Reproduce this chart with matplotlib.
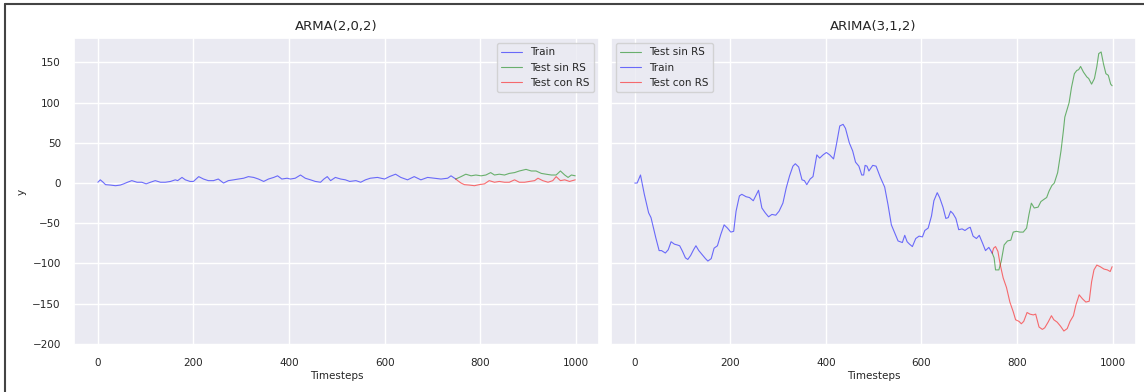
import matplotlib
matplotlib.use("Agg")
import matplotlib.pyplot as plt
import seaborn as sns
from matplotlib.lines import Line2D

# (timestep, value) pairs
arma_train = [(0, 1), (5, 4), (11, 1), (16, -2), (26, -2.5), (37, -3.3), (47, -2.5), (54, -1), (62, 1),
              (71, 3), (82, 1), (92, 1), (101, -1), (110, 1), (120, 3), (131, 1), (141, 1), (152, 2),
              (162, 4), (167, 3), (176, 7), (183, 4), (193, 2), (200, 2), (211, 8), (221, 5), (231, 3),
              (242, 3), (252, 5), (263, 0), (273, 3), (284, 4), (294, 5), (305, 6), (315, 8), (326, 7),
              (336, 5), (347, 2), (357, 5), (368, 7), (376, 9), (385, 5), (396, 6), (403, 5), (413, 6),
              (424, 10), (434, 6), (445, 4), (455, 2), (466, 1), (473, 5), (480, 8), (487, 3), (497, 7),
              (508, 5), (518, 4), (527, 2), (540, 3), (550, 1), (560, 4), (570, 6), (585, 7), (600, 5),
              (610, 8), (623, 11), (634, 7), (648, 4), (662, 8), (676, 4), (690, 7), (704, 6), (718, 5),
              (732, 6), (739, 9), (749, 5)]
arma_sin_rs = [(749, 5), (760, 8), (770, 11), (781, 9), (791, 10), (802, 9), (812, 10), (822, 13), (830, 10),
               (840, 11), (851, 10), (861, 12), (872, 13), (882, 15), (896, 17), (907, 15), (917, 15),
               (928, 12), (938, 11), (949, 10), (959, 10), (968, 15), (977, 10), (984, 7), (991, 10), (999, 9)]
arma_con_rs = [(749, 5), (753, 3), (760, 0), (767, -2), (777, -2.5), (788, -3.3), (798, -2), (809, -1),
               (819, 3), (830, 1), (840, 2), (851, 1), (861, 1), (872, 4), (882, 1), (893, 1), (903, 2),
               (914, 3), (921, 6), (931, 3), (942, 1), (952, 3), (959, 8), (968, 3), (977, 4), (987, 2), (999, 4)]

arima_train = [(0, 0), (5, 0), (12, 10), (20, -14), (29, -37), (34, -43), (44, -68), (51, -84), (56, -84),
               (64, -87), (70, -83), (76, -73), (83, -76), (89, -77), (94, -78), (100, -85), (106, -93),
               (111, -95), (117, -90), (123, -83), (128, -78), (134, -84), (141, -89), (148, -94), (153, -97),
               (160, -94), (166, -81), (173, -78), (180, -64), (187, -52), (194, -56), (201, -61), (207, -60),
               (212, -35), (219, -16), (224, -14), (233, -17), (240, -18), (248, -22), (259, -9), (266, -31),
               (273, -37), (280, -42), (287, -39), (295, -40), (302, -35), (310, -25), (317, -6), (324, 9),
               (331, 21), (336, 24), (343, 20), (350, 4), (355, 3), (360, -2), (367, 5), (373, 8), (381, 35),
               (387, 31), (394, 35), (401, 38), (408, 35), (416, 30), (422, 48), (429, 71), (436, 73),
               (441, 68), (449, 50), (456, 40), (462, 26), (469, 21), (475, 10), (479, 10), (482, 22),
               (486, 21), (490, 15), (498, 22), (505, 21), (514, 7), (523, -5), (530, -27), (537, -52),
               (544, -62), (551, -72), (560, -74), (565, -65), (570, -73), (575, -76), (581, -79), (588, -69),
               (595, -66), (602, -67), (607, -59), (614, -56), (621, -41), (626, -22), (633, -12), (638, -18),
               (645, -30), (651, -44), (656, -43), (661, -35), (666, -38), (672, -44), (678, -58), (685, -57),
               (691, -59), (698, -56), (702, -55), (708, -66), (715, -69), (721, -65), (728, -75), (734, -84),
               (741, -80), (748, -87)]
arima_sin_rs = [(748, -87), (752, -93), (755, -108), (762, -108), (767, -97), (773, -77), (780, -72), (787, -71),
                (792, -61), (799, -60), (806, -61), (813, -61), (820, -56), (825, -39), (830, -25), (836, -31),
                (844, -30), (850, -23), (857, -20), (862, -18), (867, -10), (873, -3), (878, 0), (885, 13),
                (892, 40), (897, 65), (900, 82), (906, 94), (909, 100), (914, 119), (920, 136), (925, 140),
                (929, 141), (933, 145), (939, 138), (946, 132), (950, 130), (956, 123), (962, 130), (967, 145),
                (971, 161), (976, 163), (981, 148), (986, 136), (991, 134), (996, 123), (999, 121)]
arima_con_rs = [(748, -87), (751, -81), (755, -79), (760, -85), (765, -102), (771, -118), (778, -130),
                (785, -148), (792, -160), (797, -170), (804, -172), (809, -175), (814, -172), (821, -161),
                (827, -163), (834, -164), (839, -163), (846, -179), (853, -182), (858, -180), (865, -173),
                (872, -165), (877, -170), (884, -173), (891, -178), (898, -184), (905, -181), (911, -172),
                (918, -165), (923, -152), (930, -139), (937, -144), (944, -148), (951, -147), (956, -123),
                (961, -108), (967, -102), (974, -104), (982, -107), (989, -108), (995, -110), (999, -104)]


def xy(pairs):
    return [p[0] for p in pairs], [p[1] for p in pairs]


sns.set_theme(style="darkgrid")
plt.rcParams['font.family'] = ['DejaVu Sans']

BLUE, GREEN, RED = '#0000ff', '#008000', '#ff0000'

fig = plt.figure(figsize=(11.44, 3.92), dpi=100)
ax1 = fig.add_axes([0.0647, 0.120, 0.459, 0.783])
ax2 = fig.add_axes([0.534, 0.120, 0.459, 0.783], sharey=ax1)

lw, al = 0.8, 0.55
ax1.plot(*xy(arma_train), color=BLUE, lw=lw, alpha=al, label='Train')
ax1.plot(*xy(arma_sin_rs), color=GREEN, lw=lw, alpha=al, label='Test sin RS')
ax1.plot(*xy(arma_con_rs), color=RED, lw=lw, alpha=al, label='Test con RS')
ax1.set_title('ARMA(2,0,2)', fontsize=9.5, pad=6)
ax1.set_xlabel('Timesteps', fontsize=7.5, labelpad=2)
ax1.set_ylabel('y', fontsize=7.5)
ax1.legend(loc='upper right', fontsize=7.5)

ax2.plot(*xy(arima_sin_rs), color=GREEN, lw=lw, alpha=al, label='Test sin RS')
ax2.plot(*xy(arima_train), color=BLUE, lw=lw, alpha=al, label='Train')
ax2.plot(*xy(arima_con_rs), color=RED, lw=lw, alpha=al, label='Test con RS')
ax2.set_title('ARIMA(3,1,2)', fontsize=9.5, pad=6)
ax2.set_xlabel('Timesteps', fontsize=7.5, labelpad=2)
ax2.legend(loc='upper left', fontsize=7.5)
plt.setp(ax2.get_yticklabels(), visible=False)

for ax in (ax1, ax2):
    ax.tick_params(labelsize=7.5)
    ax.set_xticks([0, 200, 400, 600, 800, 1000])
    ax.set_yticks([-200, -150, -100, -50, 0, 50, 100, 150])

# screenshot frame at the left and top
fig.add_artist(Line2D([5 / 1144, 5 / 1144], [0, 1 - 4 / 392], color='#444444', lw=1.5))
fig.add_artist(Line2D([5 / 1144, 1], [1 - 4 / 392, 1 - 4 / 392], color='#444444', lw=1.5))

fig.savefig('out.png', dpi=100)
